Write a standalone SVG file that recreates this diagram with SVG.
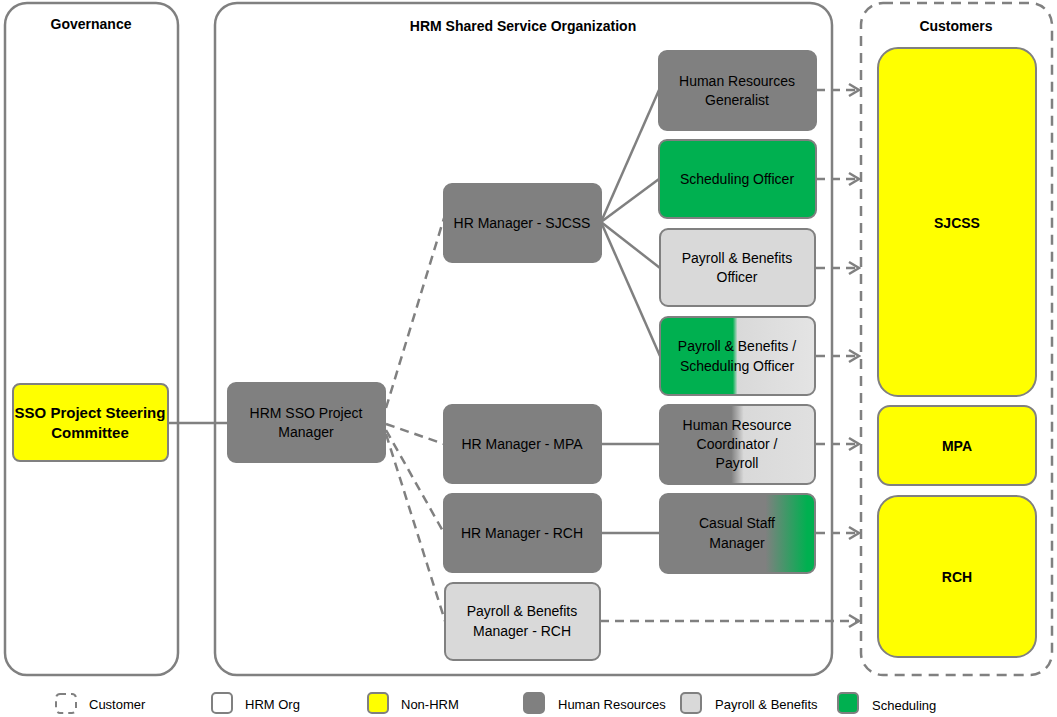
<svg xmlns="http://www.w3.org/2000/svg" width="1057" height="717" viewBox="0 0 1057 717">
  <style>
    text { font-family: "Liberation Sans", Arial, sans-serif; fill: #000; }
    .title { font-size: 14px; font-weight: bold; text-anchor: middle; }
    .lbl { font-size: 14px; text-anchor: middle; }
    .blbl { font-size: 14px; font-weight: bold; text-anchor: middle; }
    .leg { font-size: 13px; }
    .panel { fill: #fff; stroke: #808080; stroke-width: 2.5; }
    .cpanel { fill: #fff; stroke: #808080; stroke-width: 2.5; stroke-dasharray: 10 7; }
    .hr { fill: #808080; stroke: #808080; stroke-width: 2; }
    .pb { fill: #d9d9d9; stroke: #808080; stroke-width: 2; }
    .sch { fill: #00b050; stroke: #808080; stroke-width: 2; }
    .non { fill: #ffff00; stroke: #808080; stroke-width: 2; }
    .solid { stroke: #808080; stroke-width: 2.5; fill: none; }
    .dash { stroke: #808080; stroke-width: 2.5; fill: none; stroke-dasharray: 9 6; }
  </style>
  <defs>
    <marker id="chev" markerWidth="14" markerHeight="16" refX="12" refY="8" orient="auto" markerUnits="userSpaceOnUse">
      <path d="M2,2 L12,8 L2,14" fill="none" stroke="#808080" stroke-width="2.5"/>
    </marker>
    <linearGradient id="gSchPb" x1="0" y1="0" x2="1" y2="0">
      <stop offset="0" stop-color="#00b050"/>
      <stop offset="0.47" stop-color="#00b050"/>
      <stop offset="0.5" stop-color="#d9d9d9"/>
      <stop offset="1" stop-color="#e4e4e4"/>
    </linearGradient>
    <linearGradient id="gHrPb" x1="0" y1="0" x2="1" y2="0">
      <stop offset="0" stop-color="#808080"/>
      <stop offset="0.46" stop-color="#808080"/>
      <stop offset="0.54" stop-color="#d9d9d9"/>
      <stop offset="1" stop-color="#e0e0e0"/>
    </linearGradient>
    <linearGradient id="gHrSch" x1="0" y1="0" x2="1" y2="0">
      <stop offset="0" stop-color="#808080"/>
      <stop offset="0.68" stop-color="#808080"/>
      <stop offset="0.95" stop-color="#00b050"/>
      <stop offset="1" stop-color="#00b050"/>
    </linearGradient>
  </defs>

  <!-- Panels -->
  <g id="panel-governance">
    <rect class="panel" x="5" y="3" width="173" height="672" rx="22"/>
    <text class="title" x="91" y="29">Governance</text>
  </g>
  <g id="panel-sso">
    <rect class="panel" x="215" y="3" width="617" height="672" rx="22"/>
    <text class="title" x="523" y="31">HRM Shared Service Organization</text>
  </g>
  <g id="panel-customers">
    <rect class="cpanel" x="861" y="3" width="191" height="672" rx="22"/>
    <text class="title" x="956" y="31">Customers</text>
  </g>

  <!-- Connectors -->
  <g id="connectors">
    <line class="solid" x1="168" y1="423" x2="228" y2="423"/>
    <line class="dash" x1="386" y1="408" x2="444" y2="218"/>
    <line class="dash" x1="386" y1="424" x2="444" y2="444"/>
    <line class="dash" x1="386" y1="430" x2="444" y2="533"/>
    <line class="dash" x1="386" y1="434" x2="445" y2="621"/>
    <line class="solid" x1="601" y1="222" x2="659" y2="90"/>
    <line class="solid" x1="601" y1="222" x2="659" y2="179"/>
    <line class="solid" x1="601" y1="222" x2="660" y2="268"/>
    <line class="solid" x1="601" y1="222" x2="660" y2="356"/>
    <line class="solid" x1="601" y1="444" x2="660" y2="444"/>
    <line class="solid" x1="601" y1="533" x2="660" y2="533"/>
    <line class="dash" x1="816" y1="90" x2="859" y2="90" marker-end="url(#chev)"/>
    <line class="dash" x1="816" y1="179" x2="859" y2="179" marker-end="url(#chev)"/>
    <line class="dash" x1="816" y1="268" x2="859" y2="268" marker-end="url(#chev)"/>
    <line class="dash" x1="816" y1="356" x2="859" y2="356" marker-end="url(#chev)"/>
    <line class="dash" x1="816" y1="444" x2="859" y2="444" marker-end="url(#chev)"/>
    <line class="dash" x1="816" y1="533" x2="859" y2="533" marker-end="url(#chev)"/>
    <line class="dash" x1="600" y1="621" x2="859" y2="621" marker-end="url(#chev)"/>
  </g>

  <!-- Nodes -->
  <g id="node-steering">
    <rect class="non" x="13" y="384" width="155" height="77" rx="7"/>
    <text class="blbl" x="90" y="418" style="font-size:15px">SSO Project Steering</text>
    <text class="blbl" x="90" y="438" style="font-size:15px">Committee</text>
  </g>
  <g id="node-pm">
    <rect class="hr" x="228" y="383" width="157" height="79" rx="8"/>
    <text class="lbl" x="306" y="418">HRM SSO Project</text>
    <text class="lbl" x="306" y="437">Manager</text>
  </g>
  <g id="node-hrm-sjcss">
    <rect class="hr" x="444" y="184" width="157" height="78" rx="8"/>
    <text class="lbl" x="522" y="228">HR Manager - SJCSS</text>
  </g>
  <g id="node-hrm-mpa">
    <rect class="hr" x="444" y="405" width="157" height="78" rx="8"/>
    <text class="lbl" x="522" y="449">HR Manager - MPA</text>
  </g>
  <g id="node-hrm-rch">
    <rect class="hr" x="444" y="494" width="157" height="78" rx="8"/>
    <text class="lbl" x="522" y="538">HR Manager - RCH</text>
  </g>
  <g id="node-pbm-rch">
    <rect class="pb" x="445" y="583" width="155" height="77" rx="8"/>
    <text class="lbl" x="522" y="616">Payroll &amp; Benefits</text>
    <text class="lbl" x="522" y="636">Manager - RCH</text>
  </g>
  <g id="node-generalist">
    <rect class="hr" x="659" y="51" width="157" height="79" rx="8"/>
    <text class="lbl" x="737" y="86">Human Resources</text>
    <text class="lbl" x="737" y="105">Generalist</text>
  </g>
  <g id="node-scheduling">
    <rect class="sch" x="659" y="140" width="157" height="78" rx="8"/>
    <text class="lbl" x="737" y="184">Scheduling Officer</text>
  </g>
  <g id="node-pb-officer">
    <rect class="pb" x="660" y="229" width="155" height="77" rx="8"/>
    <text class="lbl" x="737" y="263">Payroll &amp; Benefits</text>
    <text class="lbl" x="737" y="282">Officer</text>
  </g>
  <g id="node-pb-sched">
    <rect x="660" y="317" width="155" height="78" rx="8" fill="url(#gSchPb)" stroke="#808080" stroke-width="2"/>
    <text class="lbl" x="737" y="351">Payroll &amp; Benefits /</text>
    <text class="lbl" x="737" y="371">Scheduling Officer</text>
  </g>
  <g id="node-coordinator">
    <rect x="660" y="405" width="155" height="79" rx="8" fill="url(#gHrPb)" stroke="#808080" stroke-width="2"/>
    <text class="lbl" x="737" y="430">Human Resource</text>
    <text class="lbl" x="737" y="449">Coordinator /</text>
    <text class="lbl" x="737" y="468">Payroll</text>
  </g>
  <g id="node-casual">
    <rect x="660" y="494" width="155" height="79" rx="8" fill="url(#gHrSch)" stroke="#808080" stroke-width="2"/>
    <text class="lbl" x="737" y="528">Casual Staff</text>
    <text class="lbl" x="737" y="548">Manager</text>
  </g>
  <g id="cust-sjcss">
    <rect class="non" x="878" y="48" width="158" height="348" rx="20"/>
    <text class="blbl" x="957" y="228">SJCSS</text>
  </g>
  <g id="cust-mpa">
    <rect class="non" x="878" y="406" width="158" height="79" rx="12"/>
    <text class="blbl" x="957" y="451">MPA</text>
  </g>
  <g id="cust-rch">
    <rect class="non" x="878" y="496" width="158" height="161" rx="20"/>
    <text class="blbl" x="957" y="582">RCH</text>
  </g>

  <!-- Legend -->
  <g id="legend">
    <rect x="56" y="694" width="20" height="19" rx="4" fill="none" stroke="#808080" stroke-width="2" stroke-dasharray="6 5"/>
    <text class="leg" x="89" y="709">Customer</text>
    <rect x="212" y="693" width="20" height="20" rx="4" fill="#fff" stroke="#808080" stroke-width="2"/>
    <text class="leg" x="245" y="709">HRM Org</text>
    <rect x="368" y="693" width="20" height="20" rx="4" fill="#ffff00" stroke="#808080" stroke-width="2"/>
    <text class="leg" x="401" y="709">Non-HRM</text>
    <rect x="524" y="693" width="20" height="20" rx="4" fill="#808080" stroke="#808080" stroke-width="2"/>
    <text class="leg" x="558" y="709">Human Resources</text>
    <rect x="681" y="693" width="20" height="20" rx="4" fill="#d9d9d9" stroke="#808080" stroke-width="2"/>
    <text class="leg" x="715" y="709">Payroll &amp; Benefits</text>
    <rect x="838" y="693" width="20" height="20" rx="4" fill="#00b050" stroke="#808080" stroke-width="2"/>
    <text class="leg" x="872" y="710">Scheduling</text>
  </g>
</svg>
